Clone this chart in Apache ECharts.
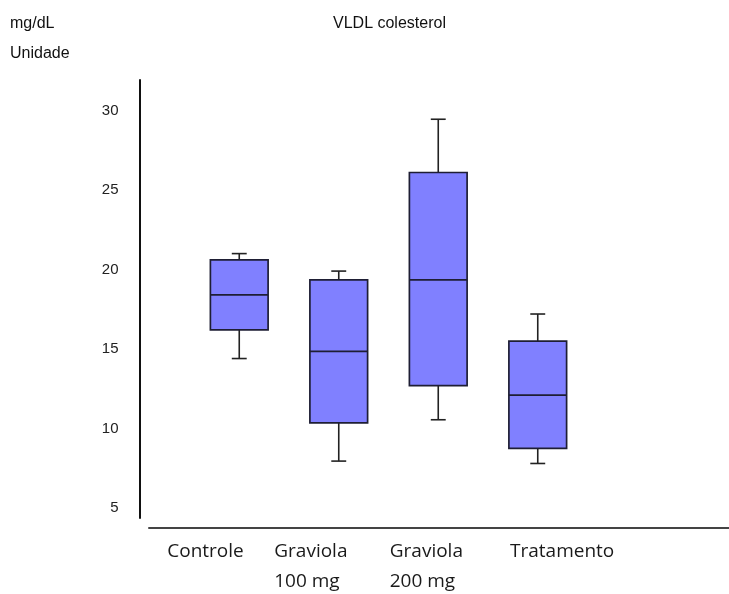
<!DOCTYPE html>
<html><head><meta charset="utf-8">
<script src="https://cdn.jsdelivr.net/npm/echarts@6/dist/echarts.min.js"></script>
<style>html,body{margin:0;padding:0;background:#fff}#c{width:729px;height:594px}</style>
</head><body><div id="c"></div>
<script>
const categories = ['Controle', 'Graviola\n100 mg', 'Graviola\n200 mg', 'Tratamento'];
const whiskerLow = [14.4, 7.95, 10.55, 7.8];
const q1 = [16.2, 10.35, 12.7, 8.75];
const median = [18.4, 14.85, 19.35, 12.1];
const q3 = [20.6, 19.35, 26.1, 15.5];
const whiskerHigh = [21.0, 19.9, 29.45, 17.2];
const yTicks = [5, 10, 15, 20, 25, 30];
const chartTitle = 'VLDL colesterol';
const unitLines = ['mg/dL', 'Unidade'];

const boxData = categories.map((c, i) => [i, whiskerLow[i], q1[i], median[i], q3[i], whiskerHigh[i]]);

function renderBox(params, api) {
  const x = api.value(0);
  const band = api.size([1, 0])[0];
  const bw = band * 0.58, cw = band * 0.15;
  const pLow = api.coord([x, api.value(1)]);
  const pQ1 = api.coord([x, api.value(2)]);
  const pMed = api.coord([x, api.value(3)]);
  const pQ3 = api.coord([x, api.value(4)]);
  const pHigh = api.coord([x, api.value(5)]);
  const cx = pQ1[0];
  const ls = { stroke: '#222', lineWidth: 1.6 };
  return {
    type: 'group',
    children: [
      { type: 'line', shape: { x1: cx, y1: pQ3[1], x2: cx, y2: pHigh[1] }, style: ls },
      { type: 'line', shape: { x1: cx - cw / 2, y1: pHigh[1], x2: cx + cw / 2, y2: pHigh[1] }, style: ls },
      { type: 'line', shape: { x1: cx, y1: pQ1[1], x2: cx, y2: pLow[1] }, style: ls },
      { type: 'line', shape: { x1: cx - cw / 2, y1: pLow[1], x2: cx + cw / 2, y2: pLow[1] }, style: ls },
      { type: 'rect', shape: { x: cx - bw / 2, y: pQ3[1], width: bw, height: pQ1[1] - pQ3[1] },
        style: { fill: '#8080ff', stroke: '#1e1e34', lineWidth: 1.7 } },
      { type: 'line', shape: { x1: cx - bw / 2, y1: pMed[1], x2: cx + bw / 2, y2: pMed[1] },
        style: { stroke: '#1e1e34', lineWidth: 1.7 } }
    ]
  };
}

const labelFont = { fontFamily: 'Open Sans', fontSize: 19, lineHeight: 30, color: '#1a1a1a' };
const richLabels = {
  c0: Object.assign({ width: 144, align: 'left' }, labelFont),
  c1: Object.assign({ width: 129, align: 'left' }, labelFont),
  c2: Object.assign({ width: 97, align: 'left' }, labelFont),
  c3: Object.assign({ width: 153, align: 'right' }, labelFont)
};

const chart = echarts.init(document.getElementById('c'), null, { renderer: 'canvas' });
const txt = { fontFamily: 'Liberation Sans', fontSize: 16, fontWeight: 'normal', color: '#111', lineHeight: 20 };
chart.setOption({
  animation: false,
  backgroundColor: '#fff',
  title: [
    { text: chartTitle, left: 333, top: 14, padding: 0, textStyle: txt },
    { text: unitLines[0], left: 10, top: 14, padding: 0, textStyle: txt },
    { text: unitLines[1], left: 10, top: 44, padding: 0, textStyle: txt }
  ],
  grid: [
    { left: 189.5, right: 141.5, top: 80, bottom: 76 },
    { left: 149, right: 0, top: 80, bottom: 66 }
  ],
  xAxis: [
    { type: 'category', gridIndex: 0, data: categories, boundaryGap: true,
      axisLine: { show: false }, axisTick: { show: false }, splitLine: { show: false },
      axisLabel: {
        interval: 0, margin: 19, align: 'center',
        formatter: (v, i) => v.split('\n').map(s => '{c' + i + '|' + s + '}').join('\n'),
        rich: richLabels
      } },
    { type: 'value', gridIndex: 1, min: 0, max: 1,
      axisLine: { show: true, lineStyle: { color: '#444', width: 2 } },
      axisTick: { show: false }, axisLabel: { show: false }, splitLine: { show: false } }
  ],
  yAxis: [
    { type: 'value', gridIndex: 0, min: 4.371, max: 31.918, offset: 50,
      axisLine: { show: true, lineStyle: { color: '#111', width: 2 } },
      axisTick: { show: false }, splitLine: { show: false },
      axisLabel: { customValues: yTicks, margin: 21, fontFamily: 'Liberation Sans', fontSize: 15, color: '#222' } },
    { type: 'value', gridIndex: 1, min: 0, max: 1, show: false }
  ],
  series: [
    { type: 'custom', xAxisIndex: 0, yAxisIndex: 0, data: boxData, renderItem: renderBox,
      encode: { x: 0, y: [1, 2, 3, 4, 5] } }
  ]
});
</script>
</body></html>
